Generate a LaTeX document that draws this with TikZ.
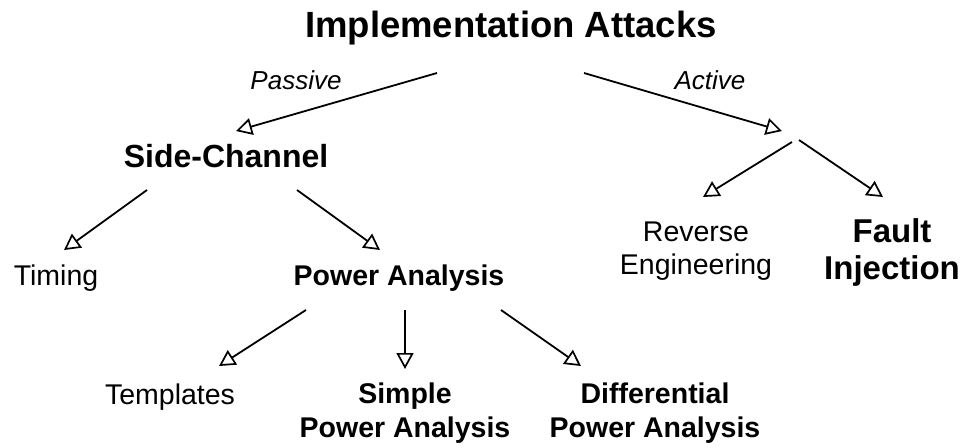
\documentclass[tikz,border=0pt]{standalone}
\usepackage{fontspec}
\setmainfont{Liberation Sans}
\usetikzlibrary{arrows.meta}

\tikzset{
  txt/.style={inner sep=0pt, anchor=base},
  heading/.style={txt, font=\fontsize{36.5}{40}\selectfont\bfseries},
  branch/.style={txt, font=\fontsize{26}{30}\selectfont\itshape},
  major/.style={txt, font=\fontsize{32}{36}\selectfont\bfseries},
  minor/.style={txt, font=\fontsize{28.5}{33}\selectfont},
  method/.style={txt, font=\fontsize{28.5}{34}\selectfont\bfseries},
  fault/.style={txt, font=\fontsize{33}{37}\selectfont\bfseries},
  twoline/.style={align=center, anchor=north},
  arr/.style={line width=1.8pt,
    -{Triangle[open, length=16pt, width=17pt, line width=1.7pt]}},
}

\begin{document}
\begin{tikzpicture}[x=1pt, y=-1pt]
  \useasboundingbox (0,0) rectangle (971,447);

  % labels
  \node[heading] (top) at (511,37) {Implementation Attacks};
  \node[branch] (pas) at (296,89) {Passive};
  \node[branch] (act) at (710,89) {Active};
  \node[major] (sc) at (226,167) {Side-Channel};
  \node[minor] (tim) at (56,285) {Timing};
  \node[method] (pa) at (399,285) {Power Analysis};
  \node[minor, twoline] (re) at (696,222) {Reverse\\Engineering};
  \node[fault, twoline] (fi) at (892,218) {Fault\\Injection};
  \node[minor] (tpl) at (170,404) {Templates};
  \node[method, twoline] (spa) at (405,383) {Simple\\Power Analysis};
  \node[method, twoline] (dpa) at (655,383) {Differential\\Power Analysis};

  % connector end points
  \coordinate (top-l) at (437,73);
  \coordinate (top-r) at (584,73);
  \coordinate (sc-in) at (236,131);
  \coordinate (act-in) at (782,131);
  \coordinate (act-l) at (792,142);
  \coordinate (act-r) at (799,140);
  \coordinate (re-in) at (703,197);
  \coordinate (fi-in) at (883,197);
  \coordinate (sc-l) at (147,190);
  \coordinate (sc-r) at (297,190);
  \coordinate (tim-in) at (64,250);
  \coordinate (pa-in) at (380,250);
  \coordinate (pa-l) at (306,310);
  \coordinate (pa-m) at (405,310);
  \coordinate (pa-r) at (501,310);
  \coordinate (tpl-in) at (219,366);
  \coordinate (spa-in) at (405,369);
  \coordinate (dpa-in) at (581,366);

  % connectors
  \draw[arr] (top-l) -- (sc-in);
  \draw[arr] (top-r) -- (act-in);
  \draw[arr] (act-l) -- (re-in);
  \draw[arr] (act-r) -- (fi-in);
  \draw[arr] (sc-l) -- (tim-in);
  \draw[arr] (sc-r) -- (pa-in);
  \draw[arr] (pa-l) -- (tpl-in);
  \draw[arr] (pa-m) -- (spa-in);
  \draw[arr] (pa-r) -- (dpa-in);
\end{tikzpicture}
\end{document}
